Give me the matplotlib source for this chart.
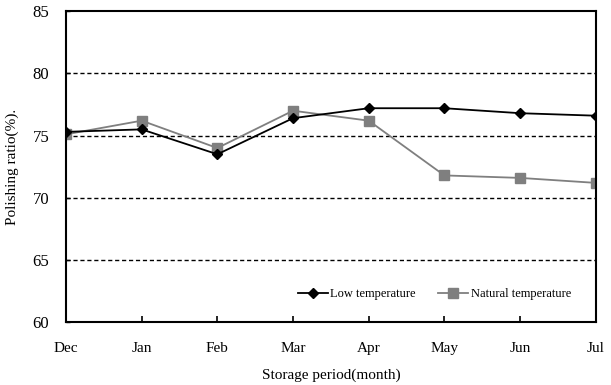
import matplotlib

matplotlib.use("Agg")
import matplotlib.pyplot as plt

plt.rcParams['font.family'] = ['Liberation Serif', 'DejaVu Serif']

months = ['Dec', 'Jan', 'Feb', 'Mar', 'Apr', 'May', 'Jun', 'Jul']
low_temp = [75.3, 75.5, 73.5, 76.4, 77.2, 77.2, 76.8, 76.6]
natural_temp = [75.1, 76.2, 74.0, 77.0, 76.2, 71.8, 71.6, 71.2]
y_ticks = [60, 65, 70, 75, 80, 85]

fig = plt.figure(figsize=(6.11, 3.85), dpi=100)
ax = fig.add_axes([0.108, 0.163, 0.867, 0.808])

x = range(len(months))
# 虚线网格只画在 65~80
for v in y_ticks[1:-1]:
    ax.axhline(v, color='black', linestyle=(0, (3, 2)), linewidth=1.0, zorder=1)

ax.plot(x, low_temp, color='black', marker='D', markersize=5, linewidth=1.3,
        label='Low temperature', zorder=3)
ax.plot(x, natural_temp, color='#7f7f7f', marker='s', markersize=7, linewidth=1.3,
        label='Natural temperature', zorder=2)

ax.set_xlim(0, len(months) - 1)
ax.set_ylim(60, 85)
ax.set_xticks(list(x))
ax.set_xticklabels(months, fontsize=11)
ax.set_yticks(y_ticks)
ax.set_yticklabels([str(v) for v in y_ticks], fontsize=12)
ax.tick_params(axis='x', direction='in', length=4, width=1.2, pad=14)
ax.tick_params(axis='y', direction='in', length=3, width=1.0, pad=12)
for s in ax.spines.values():
    s.set_linewidth(1.5)

ax.set_xlabel('Storage period(month)', fontsize=11, labelpad=10)
ax.set_ylabel('Polishing ratio(%).', fontsize=11, labelpad=10)

ax.legend(loc='lower right', bbox_to_anchor=(0.975, 0.035), ncol=2, frameon=False,
          fontsize=9, handlelength=2.4, handletextpad=0.2, columnspacing=1.8)

plt.savefig('out.png', dpi=100)
